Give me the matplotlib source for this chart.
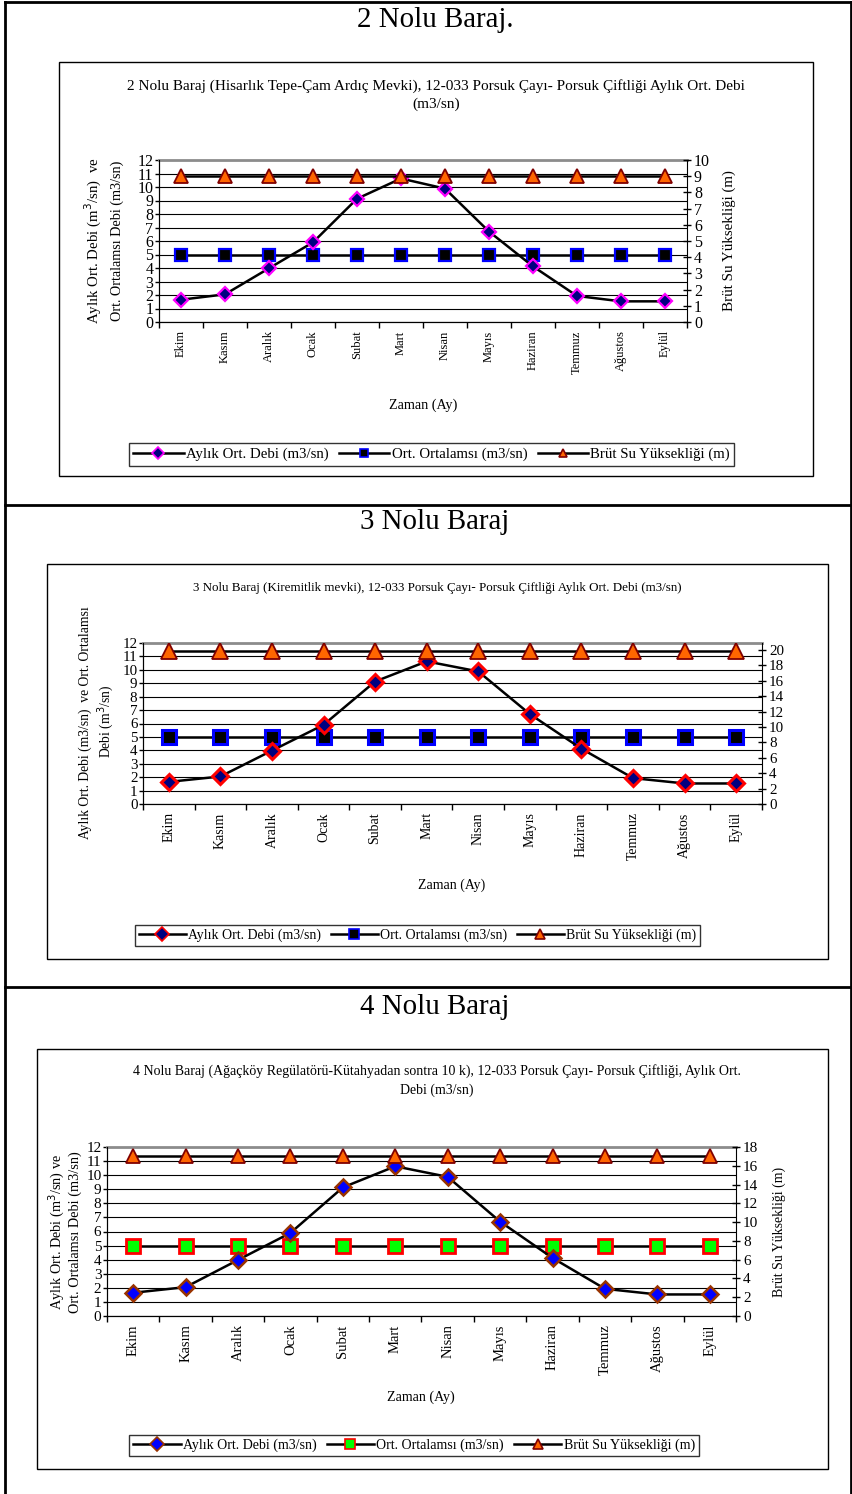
# %%
import numpy as np
import matplotlib
matplotlib.use("Agg")
import matplotlib.pyplot as plt
from matplotlib.lines import Line2D
from matplotlib.patches import Rectangle

plt.rcParams['font.family'] = ['Liberation Serif', 'DejaVu Serif']

# %%
# veriler
aylar = ["Ekim", "Kasım", "Aralık", "Ocak", "Subat", "Mart",
         "Nisan", "Mayıs", "Haziran", "Temmuz", "Ağustos", "Eylül"]
aylik_debi = [1.65, 2.05, 3.98, 5.9, 9.13, 10.63, 9.88, 6.7, 4.12, 1.93, 1.53, 1.53]
ort_ortalama = [4.97] * 12
brut_2 = [9.0] * 12
brut_3 = [19.9] * 12
brut_4 = [17.0] * 12

W, H = 853, 1494
fig = plt.figure(figsize=(W / 100, H / 100), dpi=100)


def fx(x):
    return x / W


def fy(y):
    return 1 - y / H


def hat(x0, y0, x1, y1, lw=1.0):
    fig.add_artist(Line2D([fx(x0), fx(x1)], [fy(y0), fy(y1)], color="black", lw=lw))


def grafik(plot_box, sag_ust, sag_adim, brut, stil, fs_tick, fs_ay):
    x0, y0, x1, y1 = plot_box
    ax = fig.add_axes([fx(x0), fy(y1), (x1 - x0) / W, (y1 - y0) / H])
    x = np.arange(12)
    ax.set_xlim(-0.5, 11.5)
    ax.set_ylim(0, 12)
    ax.set_yticks(range(0, 13))
    ax.yaxis.grid(True, color="black", lw=0.8)
    ax.set_axisbelow(True)
    ax.set_xticks(np.arange(-0.5, 12, 1))
    ax.set_xticklabels([])
    ax.set_xticks(x, minor=True)
    ax.set_xticklabels(aylar, minor=True, rotation=90, fontsize=fs_ay)
    ax.tick_params(axis="x", which="minor", length=0, pad=6)
    ax.tick_params(axis="x", which="major", length=4, width=1)
    ax.tick_params(axis="y", length=3, width=1, labelsize=fs_tick, pad=1)
    ax.spines["top"].set_color("#8c8c8c")
    ax.spines["top"].set_linewidth(2)
    ax.spines["right"].set_visible(False)

    ax.plot(x, ort_ortalama, color="black", lw=1.8, marker="s",
            ms=stil["s_ms"], mfc=stil["s_fc"], mec=stil["s_ec"], mew=stil["s_mew"],
            label="Ort. Ortalamsı (m3/sn)", zorder=3)
    ax.plot(x, aylik_debi, color="black", lw=1.8, marker="D",
            ms=stil["d_ms"], mfc=stil["d_fc"], mec=stil["d_ec"], mew=stil["d_mew"],
            label="Aylık Ort. Debi (m3/sn)", zorder=4)

    ax2 = ax.twinx()
    ax2.set_ylim(0, sag_ust)
    ax2.set_yticks(np.arange(0, sag_ust + 0.01, sag_adim))
    ax2.tick_params(axis="y", direction="inout", length=6, width=1,
                    labelsize=fs_tick, pad=2)
    ax2.spines["top"].set_visible(False)
    ax2.plot(x, brut, color="black", lw=1.8, marker="^",
             ms=stil["t_ms"], mfc="#ff6600", mec="#800000", mew=1.3,
             label="Brüt Su Yüksekliği (m)", zorder=5)
    return ax, ax2


def lejant(ax, ax2, kutu, stil, fs):
    bx0, by0, bx1, by1 = kutu
    h1, l1 = ax.get_legend_handles_labels()
    h2, l2 = ax2.get_legend_handles_labels()
    handles = [h1[1], h1[0], h2[0]]
    labels = [l1[1], l1[0], l2[0]]
    leg_h = []
    for h in handles:
        leg_h.append(Line2D([], [], color="black", lw=1.8, marker=h.get_marker(),
                            ms=stil["leg_ms"], mfc=h.get_mfc(), mec=h.get_mec(),
                            mew=1.2))
    fig.legend(leg_h, labels, loc="center", ncol=3,
               bbox_to_anchor=(fx((bx0 + bx1) / 2), fy((by0 + by1) / 2)),
               fontsize=fs, frameon=True, fancybox=False, edgecolor="black",
               handlelength=3.4, handletextpad=0.15, columnspacing=0.7,
               borderpad=0.3, borderaxespad=0)
    fig.legends[-1].get_frame().set_linewidth(1.0)


# %%
# dış çerçeve ve ayraçlar
hat(5, 2, 851, 2, lw=2)
hat(5, 2, 5, 1494, lw=2)
hat(851, 2, 851, 1494, lw=2)
hat(5, 505, 851, 505, lw=2)
hat(5, 987, 851, 987, lw=2)

# %%
# 2 Nolu Baraj
fig.text(fx(435), fy(20), "2 Nolu Baraj.", ha="center", va="center", fontsize=20.8)
fig.add_artist(Rectangle((fx(59), fy(476)), (813 - 59) / W, (476 - 62) / H,
                         transform=fig.transFigure, fill=False, lw=1, color="black"))
fig.text(fx(436), fy(86), "2 Nolu Baraj (Hisarlık Tepe-Çam Ardıç Mevki), 12-033 Porsuk Çayı- "
         "Porsuk Çiftliği Aylık Ort. Debi", ha="center", va="center", fontsize=11)
fig.text(fx(436), fy(104), "(m3/sn)", ha="center", va="center", fontsize=11)

stil1 = dict(d_ms=7.5, d_fc="#000080", d_ec="#ff00ff", d_mew=1.6,
             s_ms=8, s_fc="black", s_ec="#0000ff", s_mew=1.6, t_ms=9.5, leg_ms=6)
ax, ax2 = grafik((159, 160, 687, 322), 10, 1, brut_2, stil1, 11.5, 9)
fig.text(fx(93), fy(241), "Aylık Ort. Debi (m$^3$/sn)  ve", rotation=90,
         ha="center", va="center", fontsize=10.7)
fig.text(fx(117), fy(241), "Ort. Ortalamsı Debi (m3/sn)", rotation=90,
         ha="center", va="center", fontsize=10.2)
fig.text(fx(729), fy(241), "Brüt Su Yüksekliği (m)", rotation=90,
         ha="center", va="center", fontsize=10.8)
fig.text(fx(423), fy(405), "Zaman (Ay)", ha="center", va="center", fontsize=10.2)
lejant(ax, ax2, (134, 441, 729, 468), stil1, 10.7)

# %%
# 3 Nolu Baraj
fig.text(fx(435), fy(522), "3 Nolu Baraj", ha="center", va="center", fontsize=20.8)
fig.add_artist(Rectangle((fx(47), fy(959)), (828 - 47) / W, (959 - 564) / H,
                         transform=fig.transFigure, fill=False, lw=1, color="black"))
fig.text(fx(437), fy(588), "3 Nolu Baraj (Kiremitlik mevki), 12-033 Porsuk Çayı- Porsuk "
         "Çiftliği Aylık Ort. Debi (m3/sn)", ha="center", va="center", fontsize=9.4)

stil2 = dict(d_ms=8.5, d_fc="#000080", d_ec="#ff0000", d_mew=2.2,
             s_ms=10.5, s_fc="black", s_ec="#0000ff", s_mew=2.2, t_ms=11, leg_ms=7)
ax, ax2 = grafik((143, 643, 762, 804), 20.9, 2, brut_3, stil2, 10.8, 10)
fig.text(fx(85), fy(723), "Aylık Ort. Debi (m3/sn)  ve Ort. Ortalamsı", rotation=90,
         ha="center", va="center", fontsize=9.8)
fig.text(fx(106), fy(721), "Debi (m$^3$/sn)", rotation=90,
         ha="center", va="center", fontsize=9.8)
fig.text(fx(452), fy(885), "Zaman (Ay)", ha="center", va="center", fontsize=10)
lejant(ax, ax2, (131, 923, 704, 948), stil2, 10)

# %%
# 4 Nolu Baraj
fig.text(fx(435), fy(1007), "4 Nolu Baraj", ha="center", va="center", fontsize=20.8)
fig.add_artist(Rectangle((fx(37), fy(1469)), (828 - 37) / W, (1469 - 1049) / H,
                         transform=fig.transFigure, fill=False, lw=1, color="black"))
fig.text(fx(437), fy(1071), "4 Nolu Baraj (Ağaçköy Regülatörü-Kütahyadan sontra 10 k), "
         "12-033 Porsuk Çayı- Porsuk Çiftliği, Aylık Ort.", ha="center", va="center",
         fontsize=10)
fig.text(fx(437), fy(1090), "Debi (m3/sn)", ha="center", va="center", fontsize=10)

stil3 = dict(d_ms=8.5, d_fc="#0000ff", d_ec="#993300", d_mew=1.8,
             s_ms=9.5, s_fc="#00ff00", s_ec="#ff0000", s_mew=2.0, t_ms=10.5, leg_ms=7)
ax, ax2 = grafik((107, 1147, 736, 1316), 18, 2, brut_4, stil3, 11, 10.5)
fig.text(fx(57), fy(1232), "Aylık Ort. Debi (m$^3$/sn) ve", rotation=90,
         ha="center", va="center", fontsize=10.3)
fig.text(fx(75), fy(1232), "Ort. Ortalamsı Debi (m3/sn)", rotation=90,
         ha="center", va="center", fontsize=10.3)
fig.text(fx(779), fy(1232), "Brüt Su Yüksekliği (m)", rotation=90,
         ha="center", va="center", fontsize=10)
fig.text(fx(421), fy(1397), "Zaman (Ay)", ha="center", va="center", fontsize=10.1)
lejant(ax, ax2, (121, 1433, 707, 1458), stil3, 10.1)

fig.savefig("out.png", dpi=100, facecolor="white")
